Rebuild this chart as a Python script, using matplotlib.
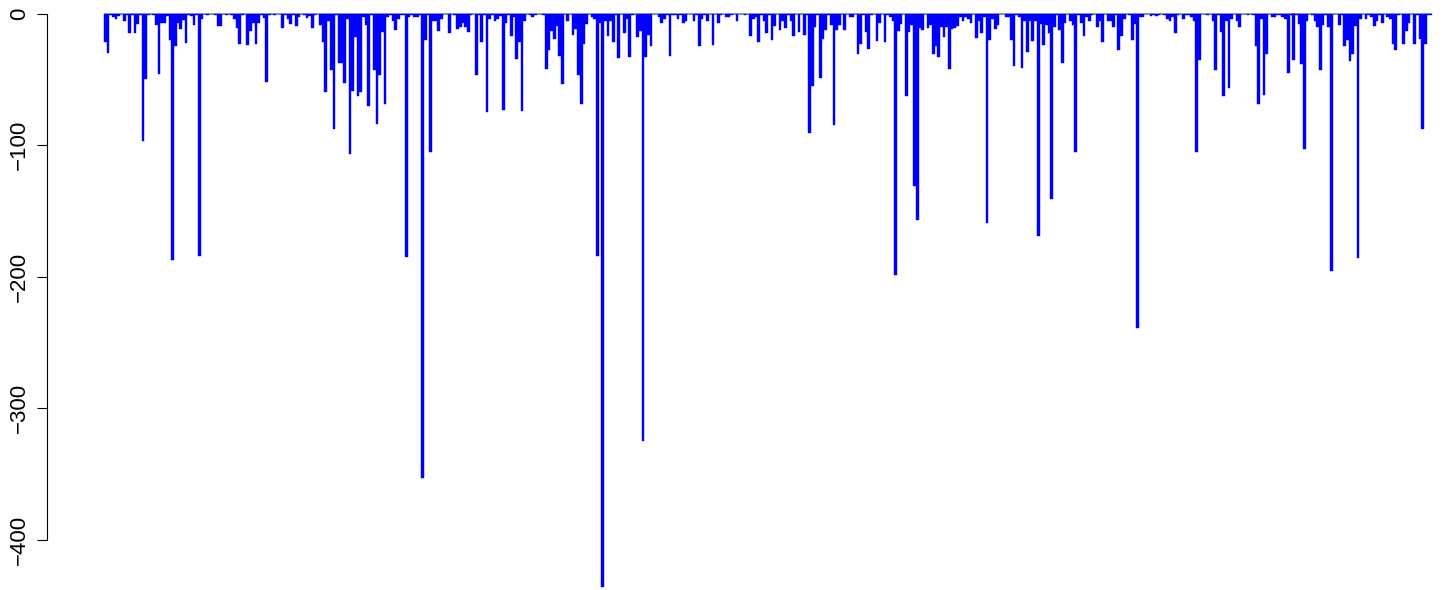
import matplotlib
matplotlib.use("Agg")
import matplotlib.pyplot as plt
import numpy as np

# Values of each bar (left to right)
drawdown = [
    -21.5, -30, -1, -2.5, -4, -2, -0.5, -5.5, -1, -15,
    -1, -14.5, -8, -1.5, -97, -49.5, -1.5, 0, -1, -8.5,
    -46, -7, -7, -2, -20, -187, -24.5, -7.5, -11.5, -5,
    -22.5, -1.5, -2, -8.5, -1.5, -184, -4, 0, -1, 0,
    -0.5, -1, -9.5, -9.5, 0, -1, 0, -1.5, -4.5, -11,
    -23, -1.5, 0, -24, -13, -7.5, -23, -7, -1, -3.5,
    -52, -1, 0, -1.5, 0, 0, -11, -1, -4, -8,
    -1, -9.5, -3, 0, -1.5, -3.5, -2, -11, -1, 0,
    -8.5, -21.5, -60, -5.5, -43, -88, -1, -37.5, -37.5, -52.5,
    -4, -107, -59, -17.5, -62.5, -59.5, -3, -8.5, -70, -1,
    -43, -84, -46.5, -14, -68.5, -2.5, -1, -5.5, -12.5, -4.5,
    -1, -1, -185, -2.5, -1, -3, -3, -1, -353, -20,
    -1, -105, -6, -6, -13, -4.5, -0.5, 0, -15, 0,
    -1, -11.5, -10, -7, -10, -14, -1, 0, -47, -1,
    -22, -1, -74.5, -4.5, -1.5, -5.5, -4.5, -2, -73, -7,
    -1, -17, -2.5, -34.5, -22, -74, -5.5, 0, -1.5, -2.5,
    -1.5, 0, 0, -1, -42, -27.5, -13, -19, -9.5, -32,
    -53.5, 0, -6, 0, -16, -11.5, -47, -68.5, -23, -8,
    0, -2.5, -4, -184, -7, -436, -5.5, -17, -5.5, -22,
    -1, -33.5, 0, -15, -4.5, -33, -1, 0, -17.5, -13,
    -325, -33, -16, -24.5, 0, 0, -2.5, -7, -4.5, -1,
    -32, -1, -1.5, -4, -1, -7, -5.5, -0.5, 0, -5.5,
    -1, -25, -4.5, -1, -5.5, 0, -24, 0, -7, -1.5,
    0, -2.5, -2.5, -1.5, 0, -5.5, 0, 0, -1, 0,
    -17, -4, -2.5, -22, -1.5, -5.5, -15, -1, -20, -9.5,
    0, -12.5, -5.5, -11, -1.5, -6, -17, 0, -14, 0,
    -16, -1, -91, -55, -10, -1.5, -49, -19, -12.5, -1.5,
    -8.5, -85, -12.5, -8.5, 0, -12.5, 0, -3, -2.5, 0,
    -31, -23, -1, -14, -27, -1, 0, -21, -7, 0,
    -21.5, -1, -3, -6, -199, -13, -8, 0, -62.5, -14,
    -8.5, -131, -157, -11, -12.5, 0, -11, -8.5, -30.5, -25,
    -33, -10, -17.5, -10, -42, -11.5, -11, -9.5, -3, -5.5,
    -2.5, -4, -7, 0, -18.5, -5.5, -14.5, -2.5, -159, -20,
    -4, -11.5, -8.5, 0, 0, -2.5, -3, -20, -40, -1,
    -3, -41.5, -5.5, -29, -6, -21, -6, -169, -8, -24,
    -8.5, -14.5, -141, -10, -1.5, -12.5, -37.5, -7, 0, -5.5,
    -8.5, -105, -1, -7, -17, -2.5, -5.5, -1, 0, -10,
    -5.5, -22, 0, -5.5, -6, -10, -1, -27.5, -17, -4,
    0, -1, -20, -8, -239, -3, -3, 0, 0, -2,
    -1, -2, -1.5, 0, -1, -4, -5.5, -2.5, -15, -1,
    0, -4, -1.5, -1, -2.5, -6, -105, -35, 0, 0,
    -1, 0, -5.5, -43, -1, -14, -63, -5.5, -56.5, -4.5,
    0, -6, -10, 0, 0, -1, 0, -1, -25, -68.5,
    -4.5, -62, -31, 0, -3, -3, -1.5, -1.5, -3, -4,
    -45, -1.5, -35, -1.5, -8, -38, -103, -6, 0, -1,
    -5.5, -10, -43, -8.5, -1, -10, -196, 0, 0, -8.5,
    -1, -24.5, -20, -36, -30.5, -9.5, -186, -4, 0, -4.5,
    -1.5, -3, -9.5, -6, -1.5, -7, 0, -3, -4.5, -23,
    -27.5, -1, 0, -23, -13, -7, 0, -23, -1.5, -19,
    -88, -23, -1, -1,
]

# small red marker seen on top of one bar
highlight_index = [442]
highlight_value = [-1.2]

tick_values = [0, -100, -200, -300, -400]
tick_labels = ["0", "\u2212100", "\u2212200", "\u2212300", "\u2212400"]

plt.rcParams['font.family'] = ['Liberation Sans', 'DejaVu Sans']

W, H = 1444, 590
fig = plt.figure(figsize=(W / 100, H / 100), dpi=100)
axis_px = 47
ax = fig.add_axes([axis_px / W, 0, 1 - axis_px / W, 1])

n = len(drawdown)
x = np.arange(n) + 0.5

# pixel layout of the bar block
left_px, right_px = 104, 1432
s = (right_px - left_px) / n
xmin = -(left_px - axis_px) / s
xmax = xmin + (W - axis_px) / s
ax.set_xlim(xmin, xmax)

ppu = 1.316
zero_px = 13.5
ax.set_ylim(-(H - zero_px) / ppu, zero_px / ppu)

ax.plot([0, n], [0, 0], color="#9a9a9a", lw=1.1, zorder=1, solid_capstyle="butt")
ax.bar(x, drawdown, width=1.0, color="#0000FF", edgecolor="#0000FF",
       linewidth=0.3, zorder=2)
ax.bar(np.array(highlight_index) + 0.5, highlight_value, bottom=0.6, width=0.8,
       color="#FF0000", linewidth=0, zorder=3)

for sp in ["top", "right", "bottom"]:
    ax.spines[sp].set_visible(False)
ax.spines["left"].set_bounds(-400, 0)
ax.spines["left"].set_linewidth(0.8)
ax.set_xticks([])
ax.set_yticks(tick_values)
ax.set_yticklabels(tick_labels, rotation=90, va="center", fontsize=16)
ax.tick_params(axis="y", length=7, width=0.8, pad=5)
ax.patch.set_visible(False)

fig.savefig("out.png", dpi=100)
